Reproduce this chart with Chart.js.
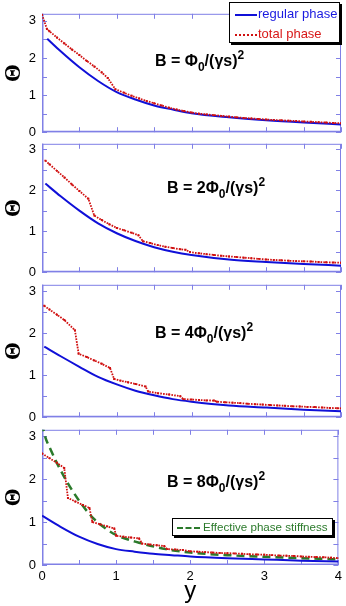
<!DOCTYPE html>
<html><head><meta charset="utf-8">
<script src="https://cdn.jsdelivr.net/npm/chart.js@4.4.1/dist/chart.umd.min.js"></script>
<style>
html,body{margin:0;padding:0;background:#fff}
body{width:346px;height:606px;overflow:hidden;position:relative;font-family:"Liberation Sans",Arial,sans-serif}
canvas{position:absolute;left:0}
.ann{position:absolute;font-weight:bold;font-size:16px;line-height:16px;white-space:nowrap;color:#000}
.ann .sb{position:relative;top:5px;font-size:12px}
.ann .sp{position:relative;top:-7px;font-size:12px}
.leg{position:absolute;background:#fff;border:1px solid #000;box-shadow:2px 2px 0 #000;box-sizing:border-box}
.row{position:absolute;left:0;white-space:nowrap;font-size:13px;line-height:14px}
.smp{position:absolute;left:5px;width:22px;height:0}
.txt{position:absolute;left:28px;top:0}
</style>
</head><body>
<canvas id="c1"></canvas><canvas id="c2"></canvas><canvas id="c3"></canvas><canvas id="c4"></canvas>

<div class="ann" style="left:155px;top:53px">B = Φ<span class="sb">0</span>/(γs)<span class="sp">2</span></div>
<div class="ann" style="left:167px;top:180px">B = 2Φ<span class="sb">0</span>/(γs)<span class="sp">2</span></div>
<div class="ann" style="left:155px;top:325px">B = 4Φ<span class="sb">0</span>/(γs)<span class="sp">2</span></div>
<div class="ann" style="left:167px;top:474px">B = 8Φ<span class="sb">0</span>/(γs)<span class="sp">2</span></div>

<div class="leg" style="left:229px;top:2px;width:111px;height:41px">
  <div class="row" style="top:4px;width:100%"><div class="smp" style="top:7px;border-top:2px solid #1010d8"></div><span class="txt" style="color:#1a1ae0">regular phase</span></div>
  <div class="row" style="top:24px;width:100%"><div class="smp" style="top:7px;border-top:2px dotted #d01010"></div><span class="txt" style="color:#d81818">total phase</span></div>
</div>
<div class="leg" style="left:172px;top:518px;width:161px;height:18px">
  <div class="row" style="top:1px;width:100%;font-size:11.6px"><div class="smp" style="top:7px;left:4px;width:23px;border-top:2.5px dashed #2b7a2b"></div><span class="txt" style="left:30px;color:#2b7a2b">Effective phase stiffness</span></div>
</div>

<script>
// ---------- data ----------
const xTickVals = [0, 0.5, 1, 1.5, 2, 2.5, 3, 3.5, 4];
const xLabelVals = [0, 1, 2, 3, 4];
const yTickVals = [0, 0.5, 1, 1.5, 2, 2.5, 3];
const yLabelVals = [0, 1, 2, 3];
const xTitle = 'y';
const yTitle = 'Θ';

// panel 1: B = Φ0/(γs)^2
const p1RegX = [0.07, 0.25, 0.5, 0.75, 1.0, 1.25, 1.5, 1.75, 2.0, 2.5, 3.0, 3.5, 4.0];
const p1RegY = [2.52, 2.18, 1.75, 1.38, 1.08, 0.88, 0.72, 0.61, 0.51, 0.40, 0.32, 0.26, 0.21];
const p1TotX = [0, 0.066, 0.1, 0.2, 0.3, 0.4, 0.5, 0.6, 0.7, 0.8, 0.88, 0.98, 1.1, 1.2, 1.3, 1.4, 1.5, 1.6, 1.7, 1.8, 1.9, 2.0, 2.1, 2.2, 2.3, 2.4, 2.5, 2.6, 2.7, 2.8, 2.9, 3.0, 3.1, 3.2, 3.3, 3.4, 3.5, 3.6, 3.7, 3.8, 3.9, 4.0];
const p1TotY = [3.17, 2.78, 2.72, 2.55, 2.39, 2.23, 2.08, 1.92, 1.77, 1.61, 1.46, 1.16, 1.06, 0.98, 0.91, 0.84, 0.78, 0.72, 0.66, 0.61, 0.57, 0.53, 0.50, 0.48, 0.46, 0.44, 0.42, 0.40, 0.385, 0.37, 0.355, 0.34, 0.33, 0.32, 0.31, 0.30, 0.29, 0.28, 0.27, 0.26, 0.25, 0.24];

// panel 2: B = 2Φ0/(γs)^2
const p2RegX = [0.045, 0.25, 0.5, 0.75, 1.0, 1.25, 1.5, 1.75, 2.0, 2.5, 3.0, 3.5, 4.0];
const p2RegY = [2.16, 1.85, 1.50, 1.19, 0.95, 0.76, 0.61, 0.50, 0.42, 0.31, 0.25, 0.20, 0.16];
const p2TotX = [0.045, 0.1, 0.2, 0.3, 0.4, 0.5, 0.62, 0.70, 0.8, 0.9, 1.0, 1.1, 1.2, 1.29, 1.35, 1.45, 1.55, 1.65, 1.75, 1.85, 1.92, 1.98, 2.1, 2.2, 2.3, 2.4, 2.5, 2.6, 2.7, 2.8, 2.9, 3.0, 3.1, 3.2, 3.3, 3.4, 3.5, 3.6, 3.7, 3.8, 3.9, 4.0];
const p2TotY = [2.72, 2.63, 2.47, 2.31, 2.14, 1.98, 1.79, 1.38, 1.27, 1.17, 1.08, 1.02, 0.96, 0.90, 0.755, 0.71, 0.66, 0.62, 0.59, 0.56, 0.545, 0.49, 0.46, 0.44, 0.42, 0.40, 0.385, 0.37, 0.355, 0.34, 0.325, 0.31, 0.30, 0.29, 0.28, 0.27, 0.265, 0.26, 0.25, 0.24, 0.235, 0.23];

// panel 3: B = 4Φ0/(γs)^2
const p3RegX = [0.03, 0.25, 0.5, 0.75, 1.0, 1.25, 1.5, 1.75, 2.0, 2.5, 3.0, 3.5, 4.0];
const p3RegY = [1.68, 1.45, 1.20, 0.96, 0.78, 0.63, 0.52, 0.43, 0.37, 0.28, 0.23, 0.18, 0.14];
const p3TotX = [0.03, 0.1, 0.2, 0.3, 0.44, 0.49, 0.6, 0.7, 0.8, 0.91, 0.965, 1.05, 1.15, 1.25, 1.386, 1.42, 1.55, 1.7, 1.85, 1.89, 2.0, 2.1, 2.2, 2.3, 2.34, 2.45, 2.55, 2.65, 2.75, 2.85, 2.95, 3.05, 3.15, 3.25, 3.35, 3.45, 3.55, 3.65, 3.75, 3.85, 3.95, 4.0];
const p3TotY = [2.65, 2.56, 2.44, 2.31, 2.07, 1.51, 1.43, 1.35, 1.27, 1.17, 0.91, 0.87, 0.83, 0.79, 0.73, 0.61, 0.57, 0.54, 0.50, 0.43, 0.42, 0.41, 0.40, 0.395, 0.37, 0.355, 0.345, 0.335, 0.32, 0.31, 0.30, 0.29, 0.28, 0.27, 0.26, 0.255, 0.245, 0.24, 0.23, 0.22, 0.215, 0.21];

// panel 4: B = 8Φ0/(γs)^2
const p4RegX = [0.0, 0.25, 0.5, 0.75, 1.0, 1.25, 1.5, 1.75, 2.0, 2.5, 3.0, 3.5, 4.0];
const p4RegY = [1.15, 0.89, 0.66, 0.49, 0.37, 0.31, 0.26, 0.23, 0.20, 0.16, 0.13, 0.10, 0.08];
const p4TotX = [0.0, 0.1, 0.2, 0.3, 0.35, 0.45, 0.55, 0.64, 0.68, 0.78, 0.88, 0.975, 1.0, 1.1, 1.2, 1.31, 1.35, 1.45, 1.55, 1.65, 1.69, 1.8, 1.9, 2.0, 2.1, 2.2, 2.3, 2.4, 2.5, 2.6, 2.7, 2.8, 2.9, 3.0, 3.1, 3.2, 3.3, 3.4, 3.5, 3.6, 3.7, 3.8, 3.9, 4.0];
const p4TotY = [2.60, 2.49, 2.38, 2.26, 1.56, 1.48, 1.40, 1.33, 1.00, 0.95, 0.90, 0.85, 0.68, 0.66, 0.64, 0.62, 0.50, 0.48, 0.46, 0.44, 0.37, 0.36, 0.35, 0.32, 0.31, 0.30, 0.29, 0.28, 0.275, 0.27, 0.26, 0.25, 0.245, 0.24, 0.23, 0.22, 0.215, 0.21, 0.20, 0.19, 0.185, 0.18, 0.17, 0.16];
const p4EffX = [0.0, 0.05, 0.1, 0.2, 0.33, 0.5, 0.68, 0.86, 1.0, 1.31, 1.67, 2.0, 2.5, 3.0, 3.5, 4.0];
const p4EffY = [3.30, 2.95, 2.75, 2.38, 1.96, 1.50, 1.11, 0.85, 0.70, 0.52, 0.37, 0.29, 0.23, 0.19, 0.16, 0.13];

// ---------- styles ----------
const FONT = '"Liberation Sans", Arial, sans-serif';
const frameColor = '#8080e6';
const blue = '#1010d8', red = '#d01010', green = '#2b7a2b';

function pts(xs, ys){ return xs.map((x,i)=>({x:x, y:ys[i]})); }

const framePlugin = {
  id: 'frame',
  beforeDatasetsDraw(chart){
    const {ctx, chartArea:a, scales:{x, y}} = chart;
    ctx.save();
    ctx.strokeStyle = frameColor;
    ctx.lineWidth = 1;
    ctx.strokeRect(a.left + 0.5, a.top + 0.5, a.right - a.left - 1, a.bottom - a.top - 1);
    ctx.lineWidth = 1.5;
    ctx.beginPath();
    ctx.moveTo(a.left + 0.75, a.top); ctx.lineTo(a.left + 0.75, a.bottom);
    ctx.moveTo(a.left, a.bottom - 0.75); ctx.lineTo(a.right, a.bottom - 0.75);
    ctx.stroke();
    ctx.lineWidth = 1;
    ctx.beginPath();
    const L = 5;
    xTickVals.forEach(v => {
      const px = Math.round(x.getPixelForValue(v)) + 0.5;
      ctx.moveTo(px, a.bottom); ctx.lineTo(px, a.bottom - L);
      ctx.moveTo(px, a.top); ctx.lineTo(px, a.top + L);
    });
    yTickVals.forEach(v => {
      const py = Math.round(y.getPixelForValue(v)) + 0.5;
      ctx.moveTo(a.left, py); ctx.lineTo(a.left + L, py);
      ctx.moveTo(a.right, py); ctx.lineTo(a.right - L, py);
    });
    ctx.stroke();
    ctx.restore();
  }
};

const panels = [
  {id:'c1', top:0,   h:146, padTop:1, padBottom:9, yMax:3.19, showX:false, reg:[p1RegX,p1RegY], tot:[p1TotX,p1TotY]},
  {id:'c2', top:130, h:156, padTop:7, padBottom:8, yMax:3.13, showX:false, reg:[p2RegX,p2RegY], tot:[p2TotX,p2TotY]},
  {id:'c3', top:271, h:160, padTop:7, padBottom:8, yMax:3.15, showX:false, reg:[p3RegX,p3RegY], tot:[p3TotX,p3TotY]},
  {id:'c4', top:416, h:190, padTop:7, padBottom:0, yMax:3.15, showX:true,  reg:[p4RegX,p4RegY], tot:[p4TotX,p4TotY], eff:[p4EffX,p4EffY]}
];

panels.forEach(p => {
  const cv = document.getElementById(p.id);
  cv.width = 346; cv.height = p.h;
  cv.style.top = p.top + 'px';
  cv.style.width = '346px'; cv.style.height = p.h + 'px';
  const datasets = [];
  if (p.eff) datasets.push({
    label: 'Effective phase stiffness', data: pts(p.eff[0], p.eff[1]),
    borderColor: green, borderWidth: 2.5, borderDash: [8, 5], pointRadius: 0,
    cubicInterpolationMode: 'monotone', clip: 0, order: 3
  });
  datasets.push({
    label: 'regular phase', data: pts(p.reg[0], p.reg[1]),
    borderColor: blue, borderWidth: 2, pointRadius: 0,
    cubicInterpolationMode: 'monotone', clip: 0, order: 2
  });
  datasets.push({
    label: 'total phase', data: pts(p.tot[0], p.tot[1]),
    borderColor: red, borderWidth: 1.8, borderDash: [1.6, 1.2], tension: 0,
    pointStyle: 'rect', pointRadius: 1.4, pointBackgroundColor: red, pointBorderWidth: 0,
    clip: 0, order: 1
  });
  new Chart(cv, {
    type: 'line',
    data: { datasets },
    plugins: [framePlugin],
    options: {
      responsive: false, animation: false, devicePixelRatio: 1,
      layout: { padding: { top: p.padTop, bottom: p.padBottom, left: 0, right: 5 } },
      plugins: { legend: { display: false }, tooltip: { enabled: false } },
      scales: {
        x: {
          type: 'linear', min: 0, max: 4, display: p.showX,
          afterBuildTicks: s => { s.ticks = xLabelVals.map(v => ({value: v})); },
          afterFit: s => { s.height = p.showX ? 41 : 0; },
          grid: { display: false, drawTicks: false }, border: { display: false },
          ticks: { font: { size: 13, family: FONT }, color: '#000', padding: 4, maxRotation: 0,
                   callback: v => String(v) },
          title: { display: true, text: xTitle, font: { size: 24, family: FONT }, color: '#000', padding: 0 }
        },
        y: {
          type: 'linear', min: 0, max: p.yMax,
          afterBuildTicks: s => { s.ticks = yLabelVals.map(v => ({value: v})); },
          afterFit: s => { s.width = 42; },
          grid: { display: false, drawTicks: false }, border: { display: false },
          ticks: { font: { size: 13, family: FONT }, color: '#000', padding: 6, callback: v => String(v) },
          title: { display: true, text: yTitle, font: { size: 23, weight: 'bold', family: '"Liberation Serif", serif' }, color: '#000', padding: 0 }
        }
      }
    }
  });
});
</script>
</body></html>
